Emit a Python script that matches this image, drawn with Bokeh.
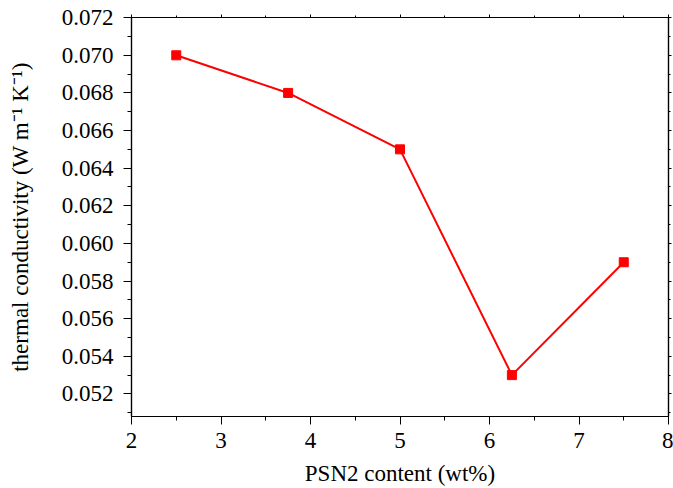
from bokeh.plotting import figure
from bokeh.models import LinearAxis, SingleIntervalTicker, NumeralTickFormatter, Range1d, ColumnDataSource
from bokeh.embed import file_html
from bokeh.resources import INLINE

content = [2.5, 3.75, 5.0, 6.25, 7.5]
conductivity = [0.070, 0.068, 0.065, 0.053, 0.059]

FONT = "Liberation Serif"

p = figure(width=673, height=488, output_backend="svg", toolbar_location=None,
           x_range=Range1d(2, 8), y_range=Range1d(0.0508, 0.07201),
           min_border_left=131, min_border_right=5, min_border_top=17, min_border_bottom=72)
p.xgrid.visible = False
p.ygrid.visible = False
p.outline_line_color = "black"
p.outline_line_width = 1.2
p.background_fill_color = "white"
p.border_fill_color = "white"

src = ColumnDataSource(dict(x=content, y=conductivity))
p.line("x", "y", source=src, line_color="#ff0000", line_width=2)
p.scatter("x", "y", source=src, marker="square", size=9, fill_color="#ff0000", line_color="#ff0000")

def style(ax, labels=True):
    ax.axis_line_color = "black"
    ax.axis_line_width = 1.2
    ax.major_tick_line_color = "black"
    ax.minor_tick_line_color = "black"
    ax.major_tick_in = 0
    ax.minor_tick_in = 0
    if labels:
        ax.major_tick_out = 8
        ax.minor_tick_out = 4
        ax.major_label_text_font = FONT
        ax.major_label_text_font_size = "23px"
        ax.major_label_text_color = "black"
        ax.axis_label_text_font = FONT
        ax.axis_label_text_font_size = "23px"
        ax.axis_label_text_font_style = "normal"
        ax.axis_label_text_color = "black"
    else:
        ax.major_tick_out = 3
        ax.minor_tick_out = 2
        ax.major_label_text_font_size = "0px"
        ax.major_label_text_color = None

xa = p.xaxis[0]
xa.ticker = SingleIntervalTicker(interval=1, num_minor_ticks=2)
xa.axis_label = "PSN2 content (wt%)"
xa.major_label_standoff = 8
xa.axis_label_standoff = 10
style(xa)

ya = p.yaxis[0]
ya.ticker = SingleIntervalTicker(interval=0.002, num_minor_ticks=2)
ya.formatter = NumeralTickFormatter(format="0.000")
ya.axis_label = "thermal conductivity (W m\u207b\u00b9 K\u207b\u00b9)"
ya.major_label_standoff = 10
ya.axis_label_standoff = 26
style(ya)

top = LinearAxis(ticker=SingleIntervalTicker(interval=1, num_minor_ticks=2))
style(top, labels=False)
p.add_layout(top, "above")
right = LinearAxis(ticker=SingleIntervalTicker(interval=0.002, num_minor_ticks=2))
style(right, labels=False)
p.add_layout(right, "right")

open("out.html", "w").write(file_html(p, INLINE))
